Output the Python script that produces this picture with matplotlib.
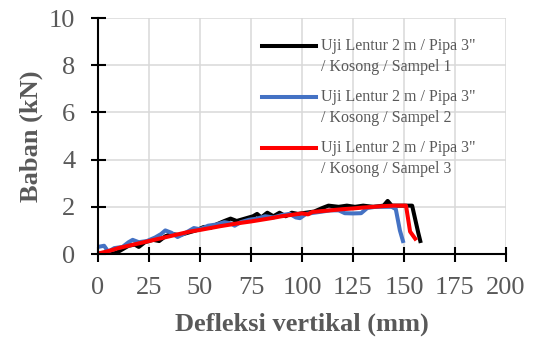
import matplotlib
matplotlib.use("Agg")
import matplotlib.pyplot as plt
import matplotlib.transforms as mtransforms
from matplotlib.legend_handler import HandlerLine2D

# ---- data ----
x1 = [0, 3, 6, 9, 12, 15, 18, 20, 23, 27, 30, 33, 36, 40, 44, 48, 52, 55, 58, 62,
      65, 68, 72, 76, 78, 80, 83, 86, 89, 92, 95, 98, 102, 106, 110, 113, 118, 122,
      126, 130, 135, 140, 142, 144, 150, 154, 157, 158]
y1 = [0.0, 0.05, 0.0, 0.05, 0.2, 0.35, 0.4, 0.3, 0.5, 0.6, 0.55, 0.75, 0.85, 0.8,
      0.9, 1.0, 1.15, 1.1, 1.25, 1.4, 1.5, 1.4, 1.5, 1.6, 1.7, 1.55, 1.75, 1.6, 1.75,
      1.6, 1.75, 1.7, 1.75, 1.8, 1.95, 2.05, 2.0, 2.05, 2.0, 2.05, 2.0, 2.05, 2.25,
      2.05, 2.05, 2.05, 0.9, 0.55]

x2 = [0, 3, 5, 8, 12, 15, 17, 20, 24, 28, 31, 33, 36, 39, 42, 45, 47, 50, 54, 58,
      62, 65, 67, 70, 74, 78, 82, 86, 90, 94, 97, 99, 102, 106, 110, 114, 118, 121,
      125, 129, 132, 136, 140, 144, 146, 148, 149.5]
y2 = [0.3, 0.35, 0.1, 0.25, 0.3, 0.5, 0.6, 0.5, 0.55, 0.7, 0.85, 1.0, 0.9, 0.72,
      0.85, 1.0, 1.1, 1.05, 1.2, 1.25, 1.35, 1.3, 1.2, 1.35, 1.45, 1.5, 1.6, 1.55,
      1.65, 1.7, 1.55, 1.52, 1.7, 1.75, 1.8, 1.85, 1.85, 1.73, 1.72, 1.73, 1.95, 2.0,
      2.0, 2.0, 1.9, 1.0, 0.55]

x3 = [0, 5, 10, 15, 20, 25, 30, 35, 40, 45, 50, 55, 60, 65, 70, 75, 80, 85, 90, 95,
      100, 103, 105, 110, 115, 120, 125, 130, 135, 140, 145, 151, 153, 155.5]
y3 = [0.02, 0.12, 0.25, 0.35, 0.45, 0.55, 0.65, 0.75, 0.85, 0.95, 1.02, 1.1, 1.18,
      1.25, 1.32, 1.38, 1.45, 1.52, 1.6, 1.66, 1.72, 1.68, 1.78, 1.82, 1.86, 1.9,
      1.93, 1.97, 2.0, 2.03, 2.05, 2.05, 0.95, 0.65]

labels = ['Uji Lentur 2 m / Pipa 3"\n/ Kosong / Sampel 1',
          'Uji Lentur 2 m / Pipa 3"\n/ Kosong / Sampel 2',
          'Uji Lentur 2 m / Pipa 3"\n/ Kosong / Sampel 3']
colors = ['#000000', '#4472C4', '#FF0000']

xticks = [0, 25, 50, 75, 100, 125, 150, 175, 200]
yticks = [0, 2, 4, 6, 8, 10]

plt.rcParams['font.family'] = ['Liberation Serif', 'DejaVu Serif']
textc = '#595959'

fig = plt.figure(figsize=(5.34, 3.38), dpi=100)
ax = fig.add_axes([0.1835, 0.2485, 0.764, 0.698])

lines = []
for xs, ys, c, lab in zip([x1, x2, x3], [y1, y2, y3], colors, labels):
    ln, = ax.plot(xs, ys, color=c, lw=2.9, label=lab, solid_joinstyle='round')
    lines.append(ln)

ax.set_xlim(0, 200)
ax.set_ylim(0, 10)
ax.set_xticks(xticks)
ax.set_yticks(yticks)
ax.grid(True, color='#d9d9d9', lw=1.1)
ax.set_axisbelow(True)
for s in ['top', 'right']:
    ax.spines[s].set_visible(False)
for s in ['left', 'bottom']:
    ax.spines[s].set_linewidth(1.5)
    ax.spines[s].set_color('black')
ax.tick_params(direction='inout', length=10.8, width=1.5, color='black',
               labelsize=19, labelcolor=textc, pad=11)

ax.set_xlabel('Defleksi vertikal (mm)', fontsize=19, fontweight='bold', color=textc, labelpad=10)
ax.set_ylabel('Baban (kN)', fontsize=19, fontweight='bold', color=textc, labelpad=4)


class TopHandler(HandlerLine2D):
    def create_artists(self, legend, orig_handle, xdescent, ydescent, width, height,
                       fontsize, trans):
        arts = super().create_artists(legend, orig_handle, xdescent, ydescent, width,
                                      height, fontsize, trans)
        shift = mtransforms.Affine2D().translate(0, 0.68 * fontsize) + trans
        for a in arts:
            a.set_transform(shift)
        return arts


leg = ax.legend(handles=lines, labels=labels, loc='upper left',
                bbox_to_anchor=(0.402, 0.915), frameon=False, fontsize=11.5,
                handlelength=3.4, handletextpad=0.3, labelspacing=0.9,
                borderpad=0, borderaxespad=0,
                handler_map={l: TopHandler() for l in lines})
for t in leg.get_texts():
    t.set_color(textc)
    t.set_linespacing(1.38)

fig.savefig('out.png', dpi=100)
